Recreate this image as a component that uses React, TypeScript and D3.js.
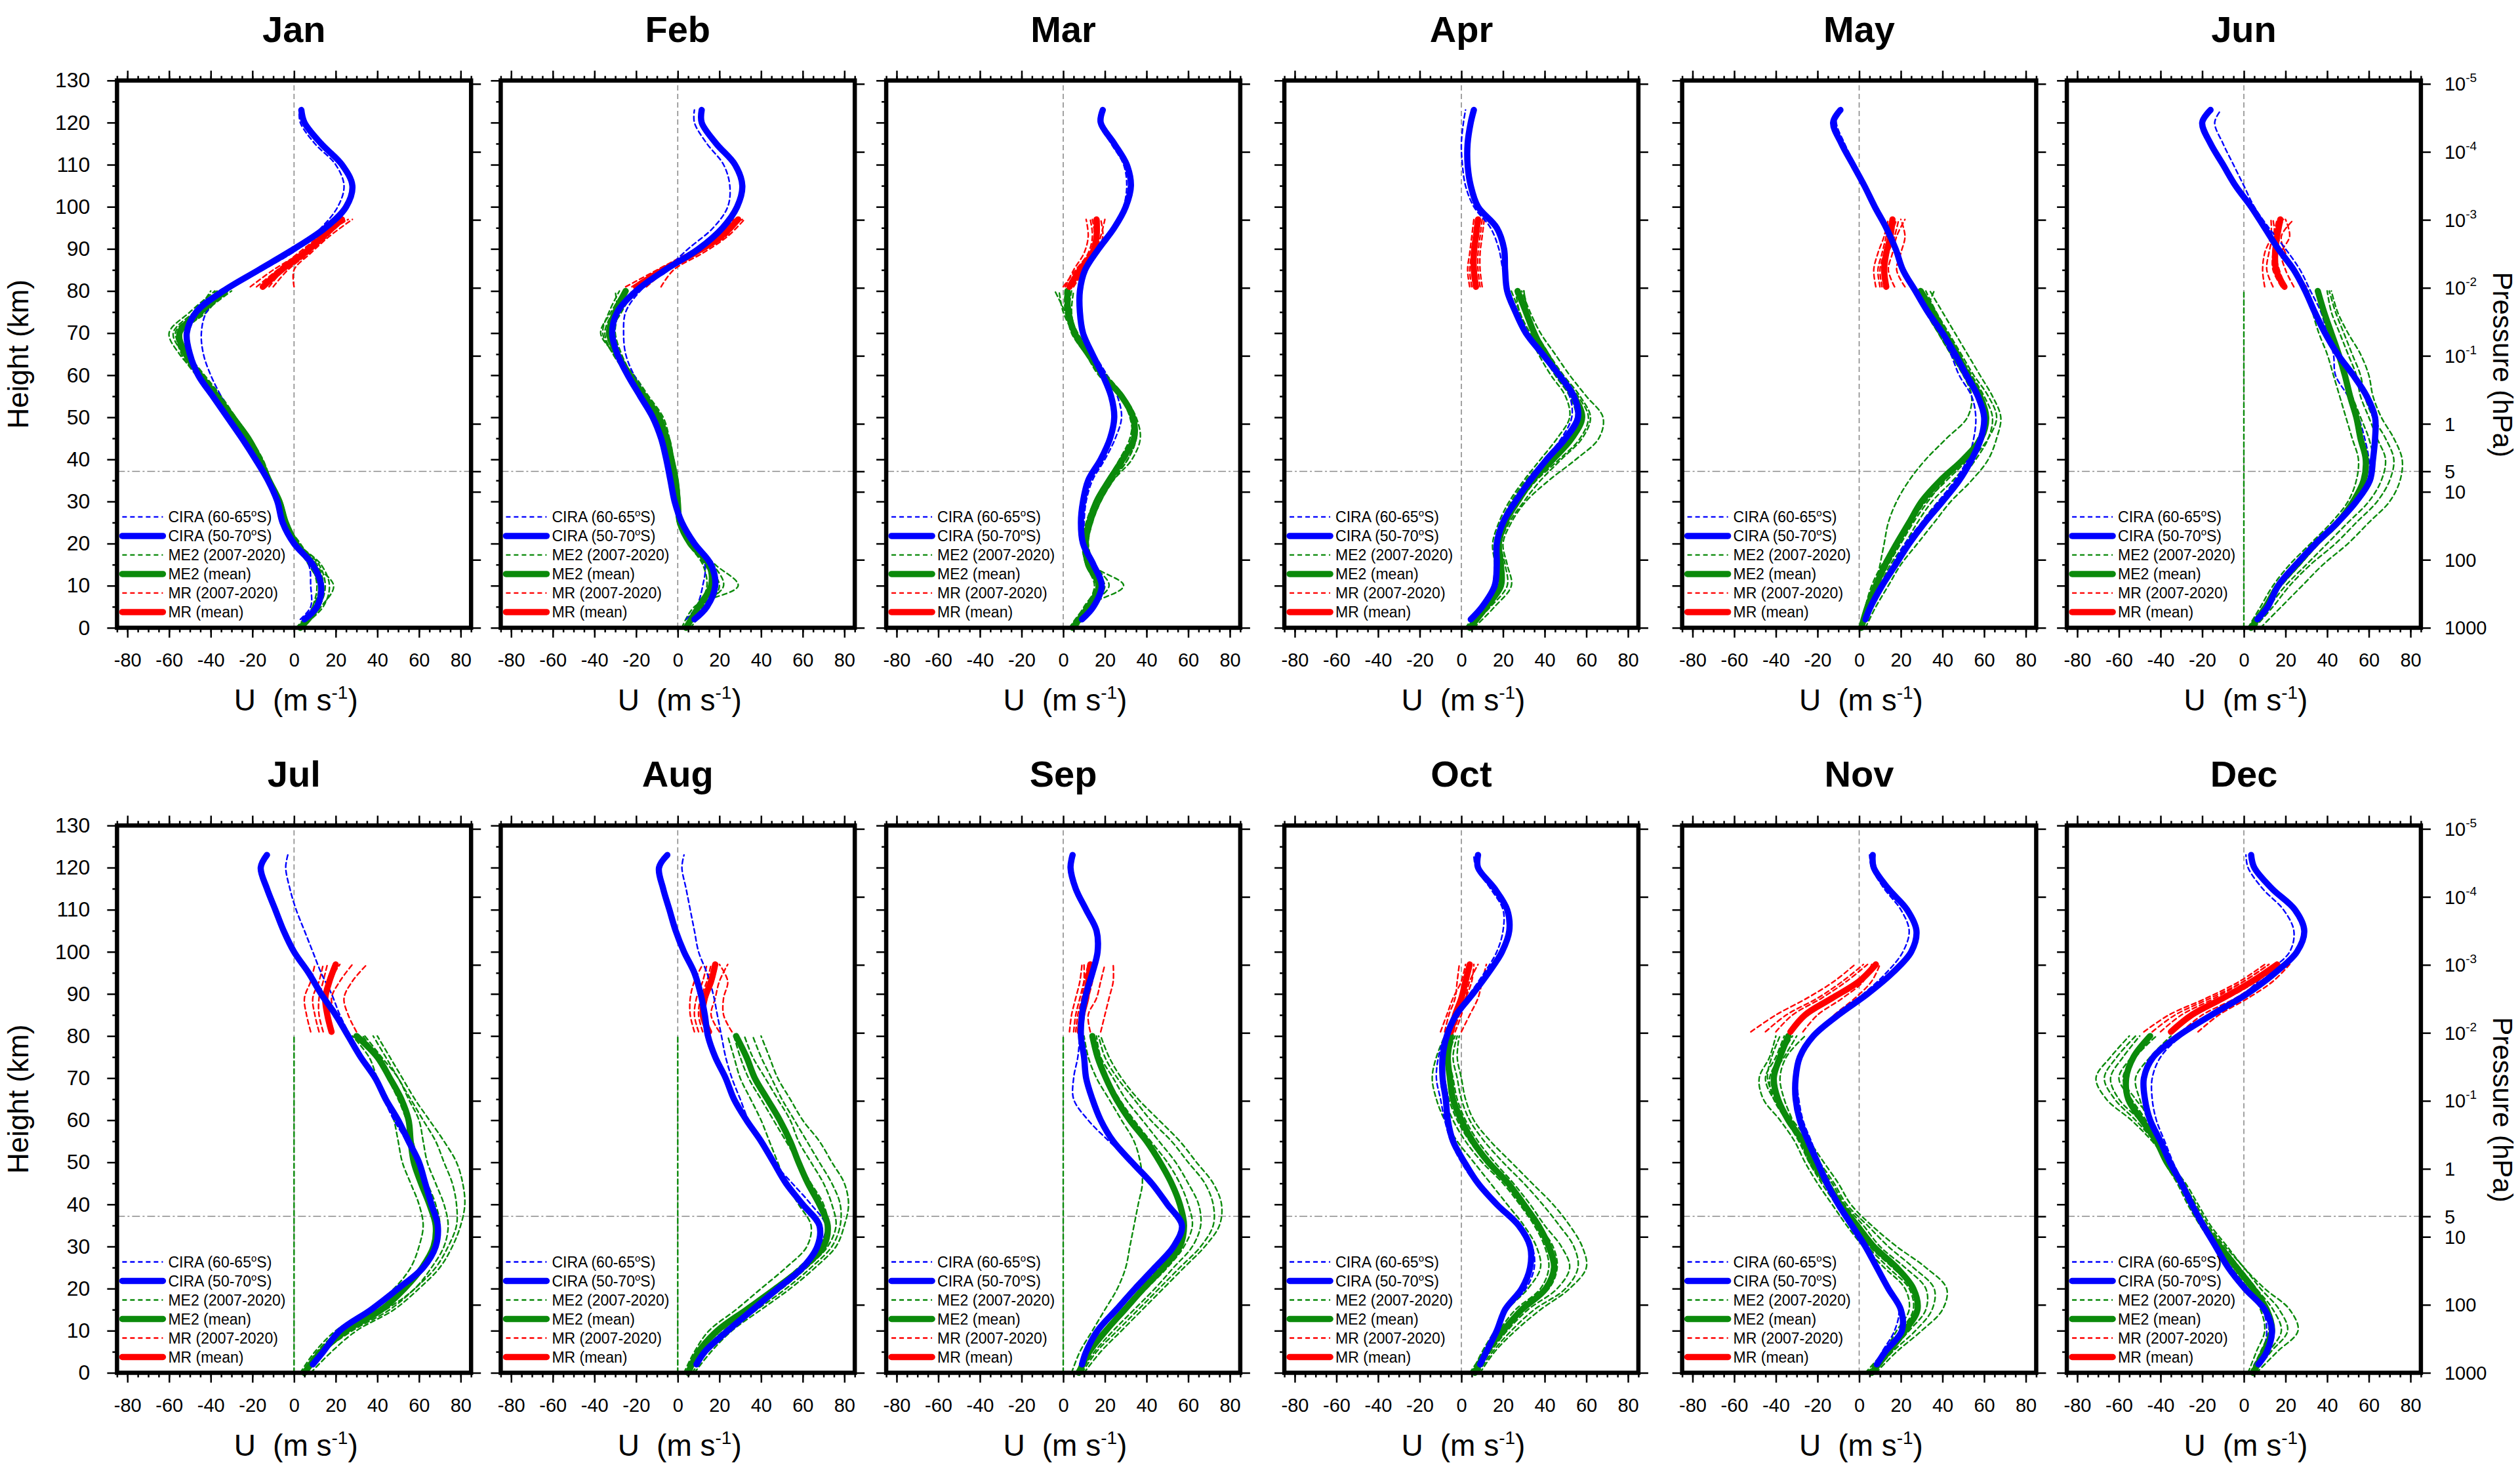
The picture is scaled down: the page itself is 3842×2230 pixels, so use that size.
import React, { useRef, useEffect } from 'react';
import * as d3 from 'd3';

// ---- data (zonal wind U, m/s) ----
const months = ['Jan', 'Feb', 'Mar', 'Apr', 'May', 'Jun', 'Jul', 'Aug', 'Sep', 'Oct', 'Nov', 'Dec'];

const ciraHeights = [2, 5, 10, 15, 20, 25, 30, 35, 40, 45, 50, 55, 60, 65, 70, 75, 80, 85, 90, 95, 100, 105, 110, 115, 120, 123];
const me2Heights = [0, 5, 10, 15, 20, 25, 30, 35, 40, 45, 50, 55, 60, 65, 70, 75, 80];
const mrHeights = [81, 85, 89, 93, 97];

const uTicks = [-80, -60, -40, -20, 0, 20, 40, 60, 80];
const heightTicks = [0, 10, 20, 30, 40, 50, 60, 70, 80, 90, 100, 110, 120, 130];
const pressureTicks = [1e-5, 1e-4, 1e-3, 1e-2, 1e-1, 1, 5, 10, 100, 1000];
const pressureLabels = [['10', '-5'], ['10', '-4'], ['10', '-3'], ['10', '-2'], ['10', '-1'], ['1', ''], ['5', ''], ['10', ''], ['100', ''], ['1000', '']];

// CIRA (50-70S), solid
const ciraBand = [
  [5, 11, 13, 9, 0, -5.5, -8, -12.5, -18.5, -25, -32, -39, -46, -50, -51.5, -47, -34, -17, 0, 15, 25, 28, 23, 13, 5, 3.5],
  [8, 14, 18, 16, 8, 2, -1.5, -3.5, -5.5, -8, -12, -18, -24, -29, -31.5, -29, -20, -6, 10, 21.5, 28.5, 31, 27.5, 18.5, 11.5, 11.5],
  [9, 14.5, 18.5, 14.5, 9.5, 8.5, 9.5, 12, 18, 22.5, 24.5, 23, 19, 14, 9.5, 8, 8, 10.5, 17, 24.5, 30, 32.5, 30.5, 24.5, 18, 19],
  [4.5, 10, 16, 17, 17, 20, 26, 33, 41, 50, 56, 54, 47, 39, 31, 26, 22, 21, 20.5, 17, 8, 4.5, 3, 3, 4.5, 6],
  [3, 5.5, 11, 17.5, 24, 31.5, 40, 48, 54, 58.5, 60, 57, 51.5, 46, 40, 33, 27, 21, 17.5, 13, 7.5, 2.5, -3, -8.5, -12.5, -9],
  [6.5, 11.5, 16.5, 25, 34.5, 45, 54, 60.5, 62, 63, 63, 59, 52.5, 45, 39, 34, 29.5, 24, 16.5, 10, 3.5, -4, -10, -16, -20, -16],
  [9, 14, 22, 37, 50, 62, 68, 69, 66, 63, 60, 55, 50, 44, 39, 32, 26, 20, 13, 7, 0, -5, -9, -13, -16, -13],
  [9, 13, 24, 36, 48, 60, 67, 68, 60, 52, 46, 40, 33, 27, 23, 18, 14.5, 13, 11, 8, 3, -1, -4, -7, -9, -5],
  [9, 11, 16.5, 25.5, 34.5, 44, 53, 57, 50, 42.5, 33, 24, 18, 14, 11, 10, 8.5, 9, 11, 14, 16.5, 16, 11, 6, 3.5, 4.5],
  [9, 12, 17, 21, 29, 33, 33, 27.5, 17, 8, 1.5, -4, -6.5, -7.5, -9, -9, -7, -2.5, 5.5, 13, 19.5, 23, 22, 16, 8, 8],
  [8.5, 12.5, 20.5, 20, 14, 8.5, 3, -3.5, -10, -15.5, -20, -24.5, -28.5, -30.5, -30.5, -28.5, -22, -10, 4, 16, 25, 27.5, 23, 14, 7, 6.5],
  [7, 11, 13.5, 10, 0.5, -7.5, -13.5, -19.5, -25, -30, -35.5, -40, -45, -47.5, -48, -43.5, -31.5, -15.5, 1.5, 15, 25.5, 29, 24.5, 13.5, 5, 3.5],
];

// CIRA (60-65S), dashed
const ciraNarrow = [
  [3, 8, 8, 7, -1, -5, -7, -11, -17, -23, -29, -35, -40, -43.5, -44.5, -42, -32, -15, 2, 13, 21, 24, 20, 10, 3, 2.5],
  [4, 9, 12, 13, 7, 1, -1, -2, -3.5, -6, -10, -15, -21, -25, -26, -25, -18, -6, 5, 17, 24, 25, 22, 14, 8, 8],
  [7, 12, 17, 14, 10, 10, 11, 14, 20, 25, 28, 26, 21, 15, 10, 8.5, 8.5, 11, 18, 25, 29, 30.5, 29, 23, 17, 18],
  [4, 9, 15, 16, 17, 20, 25, 32, 40, 48, 53, 52, 46, 39, 32, 27, 23, 20, 18, 14, 6, 2, 0.5, 0, 1, 2],
  [2, 5, 10, 16, 22, 30, 38, 46, 52, 55, 56, 54, 48, 44, 39, 34, 28, 22, 18, 14, 8, 3, -2, -7, -11, -10],
  [6, 11, 17, 25, 34, 45, 54, 60, 60, 58, 55, 50, 44, 43, 40, 37, 32, 27, 20, 12, 5, 0, -5, -10, -14, -11],
  [9, 14, 22, 37, 50, 61, 67, 68, 66, 62, 59, 54, 48, 43, 38, 32, 27, 22, 18, 13, 9, 5, 1, -2, -4, -3],
  [9, 14, 23, 35, 47, 59, 68, 71, 64, 55, 46, 40, 34, 30, 26, 23, 21, 19, 17, 14, 10, 8, 6, 4, 2, 3],
  [8, 11, 17, 26, 36, 46, 55, 58, 51, 43, 33, 22, 12, 5, 5, 7, 8, 9, 11, 14, 16, 15, 10, 5, 3, 4],
  [9, 12, 17, 22, 31, 35, 34, 28, 17, 7, 0, -5, -8, -10, -12, -11, -8, -3, 4, 11, 17, 20, 20, 14, 7, 6],
  [8, 11, 17, 19, 14, 8, 3, -3, -9, -14, -19, -23, -27, -29, -30, -28, -21, -11, 2, 13, 21, 24, 20, 12, 6, 5],
  [5, 9, 11, 9, 0, -7, -13, -19, -24, -29, -34, -38, -42, -44, -44, -40, -30, -15, 0, 11, 22, 24, 19, 9, 2, 1],
];

// ME2 (mean), 0-80 km
const me2Mean = [
  [3, 11, 13, 9, 1, -4, -7, -12, -16.5, -22, -29.5, -37, -45, -52, -55, -45, -33],
  [4, 10, 16, 15, 6, 1, 0, -1, -3, -5.5, -9, -16, -23, -29, -33, -30, -25],
  [4.5, 12, 17, 12, 10.5, 12.5, 16, 22, 28.5, 34, 33.5, 28, 19, 12, 5.5, 2.5, 2],
  [4, 12, 19, 19, 18, 21, 27, 34, 44, 53, 58, 54, 47, 40, 35, 31, 27],
  [1, 4, 8, 12.5, 18, 24, 30, 39, 50, 58.5, 61, 58, 52, 47, 41, 35.5, 29.5],
  [3.5, 10.5, 16.5, 25.5, 34.5, 45, 52.5, 57.5, 58.5, 56, 54, 51, 48.5, 45.5, 42, 38.5, 35.5],
  [5, 13, 25, 42, 53, 61.5, 67, 68, 65, 61, 57.5, 56, 55, 51.5, 46, 40, 30],
  [5, 10, 19, 33, 47, 60, 70, 72, 68, 62.5, 58, 54, 49, 43, 37, 33, 28],
  [7.5, 12.5, 20.5, 29.5, 38.5, 48, 56, 58, 56, 52, 46.5, 40, 32, 25.5, 20.5, 16.5, 14],
  [6.5, 12, 20, 29, 40.5, 44.5, 42, 37, 30, 22.5, 13, 5.5, 0, -4, -5.5, -6.5, -5],
  [6, 14, 22, 28, 26, 18, 7, -1, -9, -15.5, -22, -27, -34, -39, -41, -38, -34],
  [4.5, 9.5, 13.5, 11, 4.5, -3.5, -11.5, -19.5, -25, -30, -37, -42, -49, -55.5, -56.5, -53, -45],
];

// ME2 individual years (a selection of the 2007-2020 profiles)
const me2Years = [
  [[2, 12, 15, 12, 2, -3, -6, -11, -15, -21, -28, -36, -44, -53, -58, -48, -37],
   [4, 13, 19, 10, 3, -4, -7, -12, -17, -23, -30, -38, -47, -54, -56, -44, -33],
   [5, 9, 11, 8, 0, -5, -8, -13, -17, -22, -29, -36, -44, -50, -52, -43, -30],
   [2, 10, 14, 11, 1, -4, -7, -12, -16, -21, -28, -35, -43, -51, -57, -47, -40],
   [3, 14, 17, 13, 2, -3, -6, -11, -16, -22, -30, -38, -46, -55, -60, -50, -38],
   [1, 9, 12, 7, 0, -5, -8, -13, -18, -24, -31, -38, -45, -51, -54, -42, -34]],
  [[2, 8, 29, 18, 8, 2, 1, 0, -2, -4, -7, -14, -21, -30, -37, -32, -26],
   [6, 14, 20, 14, 5, 0, -1, -2, -4, -7, -11, -18, -25, -30, -34, -28, -22],
   [3, 9, 15, 16, 7, 2, 0, -1, -3, -5, -8, -15, -22, -27, -30, -29, -30],
   [5, 12, 19, 13, 6, 1, 1, 0, -2, -4, -9, -16, -24, -31, -35, -31, -24],
   [4, 11, 22, 17, 8, 2, 0, -1, -3, -6, -10, -17, -24, -31, -36, -33, -28],
   [3, 10, 14, 12, 5, 0, -1, -2, -4, -6, -10, -17, -23, -28, -32, -27, -21]],
  [[3, 11, 29, 14, 12, 14, 18, 24, 33, 37, 35, 29, 20, 13, 6, 1, -4],
   [6, 14, 19, 13, 11, 13, 17, 23, 31, 35, 34, 29, 19, 11, 4, 2, 3],
   [4, 10, 16, 11, 10, 12, 15, 21, 29, 33, 32, 27, 17, 11, 6, 4, 5],
   [5, 13, 20, 12, 10, 12, 16, 22, 30, 34, 33, 28, 18, 12, 5, 1, 1],
   [4, 12, 22, 15, 12, 14, 18, 24, 31, 35, 34, 28, 19, 12, 5, 0, -2],
   [5, 11, 15, 11, 9, 11, 15, 21, 27, 32, 33, 29, 21, 14, 7, 3, 4]],
  [[6, 16, 24, 22, 20, 24, 31, 42, 55, 66, 68, 60, 52, 45, 38, 33, 29],
   [2, 9, 15, 16, 15, 18, 23, 30, 38, 46, 52, 50, 43, 37, 32, 28, 24],
   [5, 13, 20, 19, 18, 22, 28, 36, 47, 57, 61, 56, 48, 42, 36, 32, 30],
   [3, 11, 18, 20, 17, 20, 26, 33, 42, 52, 58, 55, 46, 39, 33, 28, 26],
   [4, 14, 22, 21, 19, 23, 30, 38, 48, 58, 62, 57, 49, 42, 36, 32, 30],
   [3, 10, 17, 17, 16, 19, 24, 31, 40, 49, 55, 52, 45, 39, 34, 30, 27]],
  [[3, 8, 14, 20, 28, 36, 44, 54, 62, 66, 68, 64, 58, 52, 46, 40, 34],
   [1, 4, 8, 10, 12, 14, 18, 24, 32, 42, 52, 54, 50, 44, 38, 32, 28],
   [2, 6, 11, 16, 24, 30, 38, 48, 56, 62, 64, 60, 54, 48, 42, 36, 30],
   [1, 3, 6, 11, 18, 25, 32, 42, 52, 58, 60, 56, 50, 44, 38, 33, 36],
   [2, 5, 10, 15, 22, 28, 35, 45, 54, 62, 66, 62, 55, 49, 43, 37, 32],
   [1, 4, 9, 14, 20, 26, 33, 41, 50, 57, 60, 58, 53, 47, 41, 35, 27]],
  [[8, 18, 28, 38, 50, 60, 70, 75, 76, 72, 66, 62, 60, 56, 50, 45, 42],
   [4, 12, 20, 30, 40, 50, 60, 66, 68, 64, 60, 56, 54, 50, 46, 42, 40],
   [2, 8, 14, 22, 32, 42, 50, 54, 55, 52, 49, 46, 43, 40, 36, 33, 31],
   [0, 0, 0, 0, 0, 0, 0, 0, 0, 0, 0, 0, 0, 0, 0, 0, 0],
   [5, 14, 22, 32, 44, 54, 64, 70, 72, 68, 62, 58, 56, 52, 48, 44, 41],
   [3, 10, 18, 27, 36, 46, 55, 60, 62, 60, 56, 52, 48, 45, 42, 39, 36]],
  [[8, 18, 30, 48, 60, 70, 76, 80, 82, 81, 78, 72, 65, 58, 52, 46, 40],
   [3, 10, 20, 36, 48, 56, 60, 62, 60, 56, 52, 50, 48, 45, 40, 36, 28],
   [6, 14, 26, 44, 58, 66, 72, 74, 72, 68, 64, 62, 60, 55, 50, 42, 34],
   [0, 0, 0, 0, 0, 0, 0, 0, 0, 0, 0, 0, 0, 0, 0, 0, 0],
   [5, 14, 28, 46, 58, 68, 74, 78, 78, 76, 72, 68, 62, 56, 50, 44, 38],
   [4, 11, 22, 40, 54, 62, 68, 70, 68, 64, 60, 57, 54, 50, 45, 40, 33]],
  [[8, 16, 26, 40, 54, 66, 76, 80, 82, 80, 74, 68, 60, 54, 48, 44, 40],
   [3, 8, 15, 28, 40, 52, 62, 64, 58, 52, 48, 44, 40, 35, 30, 27, 24],
   [6, 12, 22, 36, 50, 62, 72, 76, 74, 70, 64, 58, 54, 48, 42, 36, 32],
   [0, 0, 0, 0, 0, 0, 0, 0, 0, 0, 0, 0, 0, 0, 0, 0, 0],
   [7, 14, 24, 38, 52, 64, 74, 78, 78, 74, 68, 62, 56, 50, 45, 40, 36],
   [4, 10, 18, 32, 46, 58, 68, 72, 70, 64, 58, 52, 46, 40, 34, 30, 27]],
  [[10, 18, 28, 38, 48, 58, 68, 75, 76, 72, 64, 56, 46, 36, 28, 22, 18],
   [4, 8, 14, 20, 26, 30, 32, 34, 36, 38, 37, 34, 28, 22, 16, 12, 10],
   [8, 15, 24, 34, 44, 53, 62, 66, 65, 60, 54, 46, 38, 30, 24, 18, 16],
   [0, 0, 0, 0, 0, 0, 0, 0, 0, 0, 0, 0, 0, 0, 0, 0, 0],
   [9, 16, 26, 36, 46, 56, 66, 72, 72, 68, 60, 52, 42, 34, 26, 20, 17],
   [6, 12, 20, 30, 40, 50, 58, 62, 60, 56, 50, 42, 34, 27, 21, 16, 13]],
  [[9, 16, 26, 38, 52, 60, 58, 52, 44, 34, 24, 14, 6, 2, 0, -2, -1],
   [5, 10, 16, 22, 32, 38, 36, 30, 22, 14, 6, -2, -8, -12, -14, -12, -8],
   [7, 14, 22, 32, 46, 52, 48, 40, 33, 25, 16, 8, 2, -2, -4, -6, -3],
   [4, 11, 18, 26, 38, 42, 40, 35, 28, 20, 10, 2, -4, -8, -10, -8, -7],
   [8, 15, 24, 35, 50, 56, 54, 47, 39, 30, 20, 11, 4, 0, -2, -4, -2],
   [6, 12, 19, 28, 42, 46, 44, 37, 30, 22, 12, 4, -2, -6, -8, -9, -6]],
  [[8, 18, 30, 40, 42, 32, 18, 6, -4, -10, -17, -24, -32, -40, -44, -42, -38],
   [4, 12, 18, 24, 22, 12, 2, -6, -13, -20, -26, -31, -38, -46, -48, -43, -40],
   [6, 15, 24, 32, 32, 22, 10, 2, -7, -13, -20, -27, -34, -40, -42, -36, -30],
   [3, 12, 21, 27, 26, 16, 5, -3, -10, -17, -24, -28, -32, -36, -38, -35, -26],
   [7, 16, 27, 35, 36, 26, 14, 4, -6, -12, -19, -26, -33, -41, -45, -40, -36],
   [5, 13, 20, 26, 24, 14, 4, -4, -11, -18, -24, -29, -35, -41, -43, -38, -32]],
  [[6, 16, 26, 22, 10, 0, -8, -16, -22, -28, -36, -44, -54, -66, -71, -64, -55],
   [2, 6, 10, 8, 2, -6, -14, -21, -27, -32, -38, -42, -46, -50, -52, -45, -35],
   [5, 12, 18, 14, 6, -2, -10, -18, -24, -30, -36, -42, -50, -60, -64, -58, -50],
   [3, 9, 14, 11, 4, -4, -12, -19, -25, -31, -37, -41, -44, -52, -58, -52, -42],
   [5, 13, 21, 17, 8, 0, -9, -17, -23, -29, -35, -43, -52, -62, -67, -61, -52],
   [3, 8, 12, 10, 3, -5, -13, -20, -26, -31, -37, -42, -47, -54, -60, -54, -46]],
];

// MR (mean), 81-97 km
const mrMean = [
  [-15, -6, 5, 14, 23],
  [-20, -7, 8, 21, 29],
  [3, 8, 14, 16, 16],
  [7, 6, 6, 7, 8],
  [13, 12, 13, 15, 16],
  [19.5, 15.5, 15, 16, 17.5],
  [18, 16, 15, 17, 20],
  [15, 12, 13, 16, 18],
  [8, 9, 11, 12, 13],
  [-5, -3, 0, 2, 4],
  [-33, -26, -13, 0, 8],
  [-35, -25, -10, 4, 16],
];

// MR individual years
const mrYears = [
  [[-21, -10, 3, 13, 26], [0, 0, 8, 17, 28], [-12, -5, 6, 16, 22], [-18, -8, 2, 12, 20], [-16, -7, 4, 15, 25], [-10, -3, 7, 15, 21]],
  [[-25, -10, 5, 19, 31], [-8, -2, 12, 24, 32], [-18, -6, 6, 18, 26], [-22, -9, 7, 22, 28], [-15, -5, 10, 23, 30], [-20, -8, 9, 20, 27]],
  [[1, 5, 10, 12, 11], [5, 10, 15, 18, 20], [2, 7, 13, 15, 14], [4, 9, 16, 19, 18], [3, 8, 14, 17, 17], [0, 6, 12, 14, 13]],
  [[4, 3, 4, 5, 6], [10, 9, 9, 10, 11], [6, 5, 5, 6, 7], [9, 8, 8, 9, 10], [8, 7, 7, 8, 9], [5, 4, 5, 6, 8]],
  [[8, 7, 9, 12, 14], [22, 18, 20, 22, 20], [11, 10, 12, 15, 18], [17, 14, 16, 18, 22], [14, 12, 14, 17, 19], [10, 9, 11, 13, 15]],
  [[10, 9, 10, 13, 13], [30, 24, 20, 18, 24], [14, 11, 12, 14, 16], [24, 20, 18, 22, 20], [18, 14, 14, 16, 19], [20, 17, 15, 15, 14]],
  [[8, 6, 5, 8, 10], [30, 26, 24, 28, 35], [14, 12, 12, 14, 16], [24, 20, 18, 22, 28], [18, 16, 14, 17, 22], [12, 10, 9, 12, 14]],
  [[8, 6, 6, 8, 12], [26, 22, 22, 24, 20], [12, 10, 11, 14, 16], [20, 16, 18, 20, 24], [16, 13, 14, 17, 19], [10, 8, 9, 12, 14]],
  [[3, 4, 6, 8, 9], [18, 20, 22, 24, 24], [6, 7, 9, 10, 10], [13, 12, 16, 18, 20], [9, 10, 12, 14, 15], [5, 6, 8, 10, 12]],
  [[-8, -6, -3, -2, -1], [0, 4, 8, 10, 12], [-6, -2, 2, 5, 6], [-3, 0, 2, 4, 8], [-4, -1, 1, 3, 5], [-10, -7, -4, 0, 2]],
  [[-52, -40, -25, -12, -2], [-20, -12, -2, 6, 10], [-40, -32, -18, -6, 4], [-27, -20, -8, 2, 6], [-45, -35, -20, -8, 2], [-34, -26, -12, 1, 8]],
  [[-48, -36, -18, -2, 10], [-22, -12, 2, 14, 22], [-40, -30, -14, 0, 12], [-30, -20, -4, 8, 18], [-44, -33, -16, 0, 12], [-36, -26, -8, 6, 16]],
];

// ---- layout ----
const W = 3842;
const H = 2230;
const colLeft = [178.4, 763.4, 1351.1, 1958.1, 2564.6, 3151.1];
const rowTop = [122.7, 1258.3];
const panelW = 539.8;
const panelH = 834.2;
const FONT = '"Liberation Sans", Arial, Helvetica, sans-serif';
const BLUE = '#0000ff';
const GREEN = '#0b8a0b';
const RED = '#ff0000';
const GREY = '#8a8a8a';

// height (km) of a pressure level (hPa), as on the right-hand axis
const pToZ = (p: number) => 16.15 * Math.log10(1000 / p);

const legendItems = [
  { parts: ['CIRA (60-65', 'o', 'S)'], color: BLUE, dashed: true },
  { parts: ['CIRA (50-70', 'o', 'S)'], color: BLUE, dashed: false },
  { parts: ['ME2 (2007-2020)'], color: GREEN, dashed: true },
  { parts: ['ME2 (mean)'], color: GREEN, dashed: false },
  { parts: ['MR (2007-2020)'], color: RED, dashed: true },
  { parts: ['MR (mean)'], color: RED, dashed: false },
];

const App: React.FC = () => {
  const svgRef = useRef<SVGSVGElement>(null);

  useEffect(() => {
    if (!svgRef.current) return;
    const svg = d3.select(svgRef.current);
    svg.selectAll('*').remove();
    svg.append('rect').attr('width', W).attr('height', H).attr('fill', '#fff');

    months.forEach((month, i) => {
      const col = i % 6;
      const row = Math.floor(i / 6);
      const left = colLeft[col];
      const top = rowTop[row];
      const bottom = top + panelH;
      const right = left + panelW;

      const x = d3.scaleLinear().domain([-85, 85]).range([left, right]);
      const y = d3.scaleLinear().domain([0, 130]).range([bottom, top]);
      const g = svg.append('g');

      const line = d3.line<[number, number]>()
        .x(d => x(d[0]))
        .y(d => y(d[1]))
        .curve(d3.curveCatmullRom.alpha(0.5));
      const prof = (vals: number[], hs: number[]) => vals.map((v, k) => [v, hs[k]] as [number, number]);

      // zero wind and 5 hPa reference lines
      g.append('line')
        .attr('x1', x(0)).attr('x2', x(0)).attr('y1', bottom).attr('y2', top)
        .attr('stroke', GREY).attr('stroke-width', 1.6).attr('stroke-dasharray', '8,5');
      g.append('line')
        .attr('x1', left).attr('x2', right).attr('y1', y(pToZ(5))).attr('y2', y(pToZ(5)))
        .attr('stroke', GREY).attr('stroke-width', 1.6).attr('stroke-dasharray', '12,4,3,4');

      const drawProfile = (vals: number[], hs: number[], color: string, thick: boolean) => {
        g.append('path')
          .attr('d', line(prof(vals, hs)))
          .attr('fill', 'none')
          .attr('stroke', color)
          .attr('stroke-width', thick ? 9.5 : 2.4)
          .attr('stroke-linecap', 'round')
          .attr('stroke-linejoin', 'round')
          .attr('stroke-dasharray', thick ? null : '7,5');
      };

      me2Years[i].forEach(v => drawProfile(v, me2Heights, GREEN, false));
      mrYears[i].forEach(v => drawProfile(v, mrHeights, RED, false));
      drawProfile(ciraNarrow[i], ciraHeights, BLUE, false);
      drawProfile(me2Mean[i], me2Heights, GREEN, true);
      drawProfile(mrMean[i], mrHeights, RED, true);
      drawProfile(ciraBand[i], ciraHeights, BLUE, true);

      // axes
      const styleAxis = (sel: d3.Selection<SVGGElement, unknown, null, undefined>, size: number) => {
        sel.select('.domain').remove();
        sel.attr('font-family', FONT).attr('font-size', size);
        sel.selectAll('line').attr('stroke', '#000').attr('stroke-width', 2.5);
        sel.selectAll('text').attr('fill', '#000');
      };

      const gBottom = g.append('g').attr('transform', `translate(0,${bottom})`);
      gBottom.call(d3.axisBottom(x).tickValues(uTicks).tickSize(15).tickPadding(24).tickFormat(d => String(d)));
      styleAxis(gBottom, 29);
      const gBottomMinor = g.append('g').attr('transform', `translate(0,${bottom})`);
      gBottomMinor.call(d3.axisBottom(x).tickValues(d3.range(-85, 86, 5)).tickSize(7).tickFormat(() => ''));
      styleAxis(gBottomMinor, 29);

      const gTop = g.append('g').attr('transform', `translate(0,${top})`);
      gTop.call(d3.axisTop(x).tickValues(uTicks).tickSize(15).tickFormat(() => ''));
      styleAxis(gTop, 29);
      const gTopMinor = g.append('g').attr('transform', `translate(0,${top})`);
      gTopMinor.call(d3.axisTop(x).tickValues(d3.range(-85, 86, 5)).tickSize(7).tickFormat(() => ''));
      styleAxis(gTopMinor, 29);

      const gLeft = g.append('g').attr('transform', `translate(${left},0)`);
      gLeft.call(d3.axisLeft(y).tickValues(heightTicks).tickSize(15).tickPadding(26)
        .tickFormat(d => (col === 0 ? String(d) : '')));
      styleAxis(gLeft, 32);
      const gLeftMinor = g.append('g').attr('transform', `translate(${left},0)`);
      gLeftMinor.call(d3.axisLeft(y).tickValues(d3.range(5, 130, 10)).tickSize(7).tickFormat(() => ''));
      styleAxis(gLeftMinor, 32);

      const gRight = g.append('g').attr('transform', `translate(${right},0)`);
      gRight.call(d3.axisRight(y).tickValues(pressureTicks.map(pToZ)).tickSize(15).tickFormat(() => ''));
      styleAxis(gRight, 29);

      if (col === 5) {
        pressureTicks.forEach((p, k) => {
          const [base, sup] = pressureLabels[k];
          const t = g.append('text')
            .attr('x', right + 36)
            .attr('y', y(pToZ(p)) + 10.5)
            .attr('font-family', FONT)
            .attr('font-size', 29)
            .attr('fill', '#000');
          t.append('tspan').text(base);
          if (sup) t.append('tspan').attr('dy', -13).attr('font-size', 19).text(sup);
        });
        g.append('text')
          .attr('transform', `translate(${3801},${(top + bottom) / 2 + 16}) rotate(90)`)
          .attr('text-anchor', 'middle')
          .attr('font-family', FONT)
          .attr('font-size', 42)
          .attr('fill', '#000')
          .text('Pressure (hPa)');
      }

      if (col === 0) {
        g.append('text')
          .attr('transform', `translate(${43},${(top + bottom) / 2}) rotate(-90)`)
          .attr('text-anchor', 'middle')
          .attr('font-family', FONT)
          .attr('font-size', 44)
          .attr('fill', '#000')
          .text('Height (km)');
      }

      // frame
      g.append('rect')
        .attr('x', left).attr('y', top).attr('width', panelW).attr('height', panelH)
        .attr('fill', 'none').attr('stroke', '#000').attr('stroke-width', 6.5);

      // legend
      legendItems.forEach((item, k) => {
        const ly = bottom - 169 + k * 29;
        g.append('line')
          .attr('x1', left + 8).attr('x2', left + 70).attr('y1', ly).attr('y2', ly)
          .attr('stroke', item.color)
          .attr('stroke-width', item.dashed ? 2.4 : 9.5)
          .attr('stroke-linecap', item.dashed ? 'butt' : 'round')
          .attr('stroke-dasharray', item.dashed ? '7,5' : null);
        const t = g.append('text')
          .attr('x', left + 78).attr('y', ly + 8)
          .attr('font-family', FONT).attr('font-size', 23).attr('fill', '#000');
        t.append('tspan').text(item.parts[0]);
        if (item.parts.length > 1) {
          t.append('tspan').attr('dy', -9).attr('font-size', 15).text(item.parts[1]);
          t.append('tspan').attr('dy', 9).attr('font-size', 23).text(item.parts[2]);
        }
      });

      // title
      g.append('text')
        .attr('x', x(0)).attr('y', top - 59)
        .attr('text-anchor', 'middle')
        .attr('font-family', FONT).attr('font-size', 56).attr('font-weight', 'bold')
        .attr('fill', '#000')
        .text(month);

      // x-axis title
      const ut = g.append('text')
        .attr('x', x(0) + 3).attr('y', bottom + 126)
        .attr('text-anchor', 'middle')
        .attr('font-family', FONT).attr('font-size', 46).attr('fill', '#000');
      ut.append('tspan').text('U');
      ut.append('tspan').attr('dx', 26).text('(m s');
      ut.append('tspan').attr('dy', -18).attr('font-size', 28).text('-1');
      ut.append('tspan').attr('dy', 18).attr('font-size', 46).text(')');
    });
  }, []);

  return (
    <div style={{ position: 'absolute', left: 0, top: 0, background: '#fff' }}>
      <svg ref={svgRef} width={W} height={H} style={{ display: 'block' }} />
    </div>
  );
};

export default App;
